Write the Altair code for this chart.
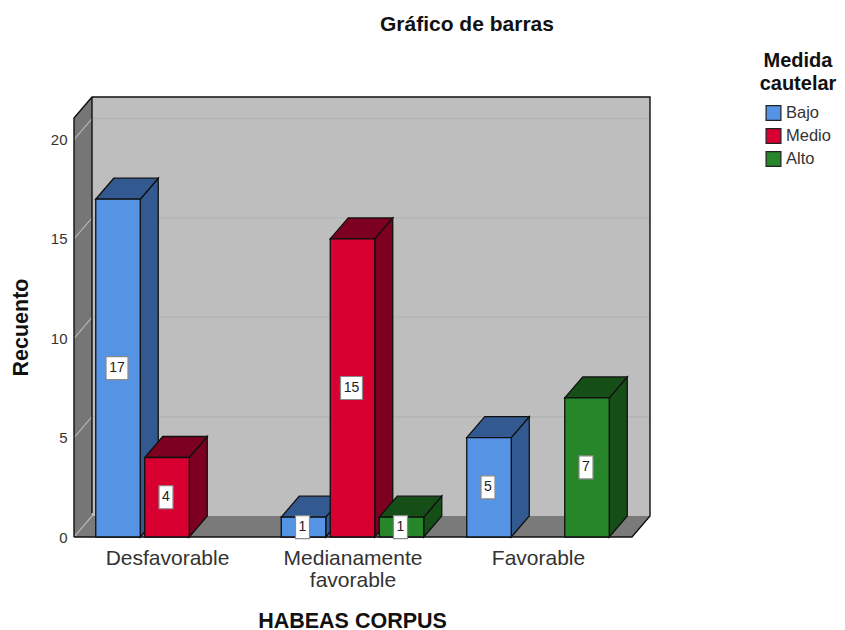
import altair as alt
import pandas as pd

categories = ["Desfavorable", "Medianamente favorable", "Favorable"]
series = ["Bajo", "Medio", "Alto"]
# (category index, series index, count)
bar_cat = [0, 0, 1, 1, 1, 2, 2]
bar_ser = [0, 1, 0, 1, 2, 0, 2]
bar_val = [17, 4, 1, 15, 1, 5, 7]
y_ticks = [0, 5, 10, 15, 20]

front_colors = ["#5593E5", "#D70031", "#27852A"]
shade_colors = ["#335A90", "#7D0020", "#164E18"]

FONT = "Liberation Sans"
W, H = 576, 440
PX_PER_UNIT = 19.87
YMAX = H / PX_PER_UNIT
DX = 18
DY = 21 / PX_PER_UNIT
FLOOR_W = W - DX
GROUP_C = [93, 278.5, 464]
SLOT = 49
BAR_W = 44.5

xs = alt.Scale(domain=[0, W], range=[0, W], nice=False, zero=False)
ys = alt.Scale(domain=[0, YMAX], range=[H, 0], nice=False, zero=False)
shade_names = [s + " sombra" for s in series]
fs = alt.Scale(domain=series + shade_names, range=front_colors + shade_colors)

label_expr = ("datum.value < 100 ? 'Desfavorable' : datum.value < 300 ? "
              "['Medianamente','favorable'] : 'Favorable'")
AX_X = alt.Axis(
    values=GROUP_C, labelExpr=label_expr, title="HABEAS CORPUS",
    domain=False, ticks=False, grid=False, labelFont=FONT, labelFontSize=21,
    labelColor="#333", labelPadding=10, labelLineHeight=22, labelFlush=False,
    labelOverlap=False, labelBound=False,
    titleFont=FONT, titleFontSize=21.5, titleFontWeight="bold", titleColor="#111",
    titleX=278, titleY=73, titleAnchor="middle")
AX_Y = alt.Axis(
    values=y_ticks, title="Recuento", domain=False, ticks=False, grid=False,
    format="d", labelFont=FONT, labelFontSize=15, labelColor="#333", labelPadding=7,
    titleFont=FONT, titleFontSize=21.5, titleFontWeight="bold", titleColor="#111",
    titleX=-42, titleY=230, titleAnchor="middle")
LEG = alt.Legend(
    values=series,
    title=["Medida", "cautelar"], titleFont=FONT, titleFontSize=20,
    titleFontWeight="bold", titleColor="#111", titleAlign="center",
    titleAnchor="middle", titleLimit=200, titleLineHeight=23, titlePadding=11,
    labelFont=FONT, labelFontSize=16.5, labelColor="#333", labelOffset=4,
    symbolType="square", symbolSize=220, symbolStrokeColor="#222",
    symbolStrokeWidth=1.2, symbolOpacity=1, rowPadding=2,
    orient="none", legendX=686, legendY=-46.5)


def X(f="x", **k):
    return alt.X(f"{f}:Q", scale=xs, axis=AX_X, stack=None, **k)


def Y(f="y", **k):
    return alt.Y(f"{f}:Q", scale=ys, axis=AX_Y, stack=None, **k)


FILL = alt.Fill("s:N", scale=fs, legend=LEG)

# ---------- bars ----------
front, side, top, box = [], [], [], []
for i, (c, s, v) in enumerate(zip(bar_cat, bar_ser, bar_val)):
    cx = GROUP_C[c] + (s - 1) * SLOT
    x0, x1 = cx - BAR_W / 2, cx + BAR_W / 2
    front.append(dict(x=x0, x2=x1, y=0, y2=v, s=series[s]))
    sh = shade_names[s]
    side += [
        dict(id=i, x=x1, y=0, y2=v, s=sh),
        dict(id=i, x=x1 + DX, y=DY, y2=v + DY, s=sh),
    ]
    top += [
        dict(id=i, y=v, x=x0, x2=x1, s=sh),
        dict(id=i, y=v + DY, x=x0 + DX, x2=x1 + DX, s=sh),
    ]
    half = 11 if v >= 10 else 7
    lx = cx - 1
    box.append(dict(x=lx - half, x2=lx + half, xc=lx,
                    y=v / 2 - 11.5 / PX_PER_UNIT, y2=v / 2 + 11.5 / PX_PER_UNIT,
                    yc=v / 2, t=str(v)))

stroke = dict(stroke="#101010", strokeWidth=1.3)

side_l = alt.Chart(pd.DataFrame(side)).mark_area(orient="vertical", **stroke).encode(
    x=X(), y=Y(), y2="y2:Q", detail="id:N", fill=FILL)
top_l = alt.Chart(pd.DataFrame(top)).mark_area(orient="horizontal", **stroke).encode(
    x=X(), x2="x2:Q", y=Y(), detail="id:N", fill=FILL)
front_l = alt.Chart(pd.DataFrame(front)).mark_rect(**stroke).encode(
    x=X(), x2="x2:Q", y=Y(), y2="y2:Q", fill=FILL)
box_l = alt.Chart(pd.DataFrame(box)).mark_rect(
    fill="white", stroke="#8a8a8a", strokeWidth=1.2).encode(
    x=X(), x2="x2:Q", y=Y(), y2="y2:Q")
text_l = alt.Chart(pd.DataFrame(box)).mark_text(
    font=FONT, fontSize=14, color="#222").encode(
    x=X("xc"), y=Y("yc"), text="t:N")

# ---------- walls ----------
back = alt.Chart(pd.DataFrame(dict(x=[DX], x2=[W], y=[DY], y2=[YMAX]))).mark_rect(
    fill="#BEBEBE").encode(x=X(), x2="x2:Q", y=Y(), y2="y2:Q")
left = alt.Chart(pd.DataFrame(dict(x=[0, DX], y=[0, DY], y2=[YMAX - DY, YMAX]))).mark_area(
    orient="vertical", fill="#767676").encode(x=X(), y=Y(), y2="y2:Q")
floor = alt.Chart(pd.DataFrame(dict(y=[0, DY], x=[0, DX], x2=[FLOOR_W, W]))).mark_area(
    orient="horizontal", fill="#7A7A7A").encode(x=X(), x2="x2:Q", y=Y())

# gridlines
grid_back = alt.Chart(pd.DataFrame(
    dict(x=[DX] * 4, x2=[W] * 4, y=[t + DY for t in y_ticks[1:]]))).mark_rule(
    stroke="#B4B4B4", strokeWidth=1.5).encode(x=X(), x2="x2:Q", y=Y())
gl = []
for t in y_ticks:
    gl += [dict(t=t, x=0, y=t), dict(t=t, x=DX, y=t + DY)]
grid_left = alt.Chart(pd.DataFrame(gl)).mark_line(
    stroke="#B4B4B4", strokeWidth=1.2).encode(x=X(), y=Y(), detail="t:N")

# outline
out_x = [0, 0, DX, W, W, FLOOR_W, 0]
out_y = [0, YMAX - DY, YMAX, YMAX, DY, 0, 0]
outline = alt.Chart(pd.DataFrame(dict(x=out_x, y=out_y, i=range(len(out_x))))).mark_line(
    stroke="#101010", strokeWidth=1.4).encode(x=X(), y=Y(), order="i:Q")
inner = alt.Chart(pd.DataFrame(dict(x=[DX, DX], y=[DY + 0.15, YMAX]))).mark_line(
    stroke="#101010", strokeWidth=1.4).encode(x=X(), y=Y())

chart = alt.layer(
    back, left, floor, grid_back, grid_left, outline, inner,
    side_l, top_l, front_l, box_l, text_l,
).properties(
    width=W, height=H,
    background="white",
    autosize=alt.AutoSizeParams(type="none"),
    padding={"left": 66, "top": 89, "right": 187, "bottom": 93},
    title=alt.TitleParams("Gráfico de barras", font=FONT, fontSize=21, fontWeight="bold",
                          color="#111", anchor="start", dx=370, offset=15.5),
).configure_view(stroke=None)

chart.save("out.html", embed_options={"renderer": "svg", "actions": False})
